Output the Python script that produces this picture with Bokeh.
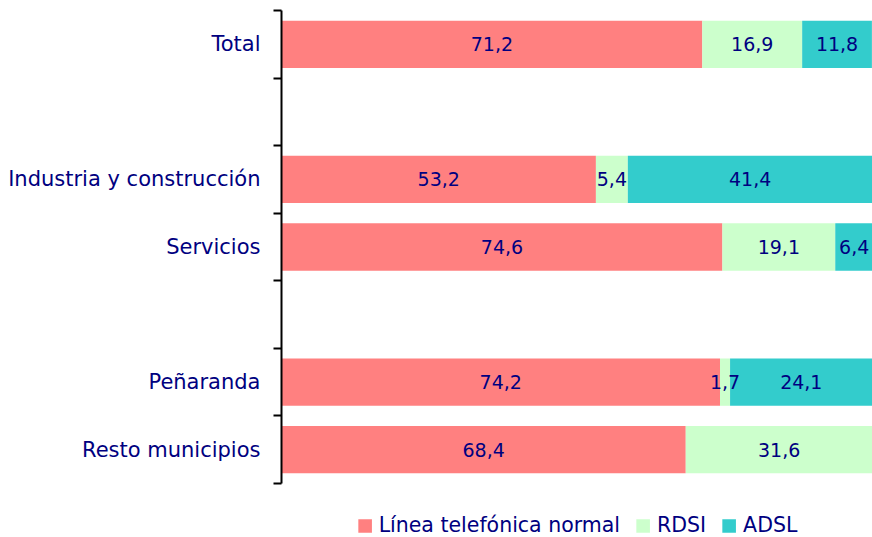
from bokeh.plotting import figure
from bokeh.models import ColumnDataSource, FixedTicker, Legend, LegendItem, Range1d
from bokeh.core.properties import value
from bokeh.embed import file_html
from bokeh.resources import INLINE

categories = ["Total", "", "Industria y construcción", "Servicios", "", "Peñaranda", "Resto municipios"]
linea = [71.2, None, 53.2, 74.6, None, 74.2, 68.4]
rdsi = [16.9, None, 5.4, 19.1, None, 1.7, 31.6]
adsl = [11.8, None, 41.4, 6.4, None, 24.1, 0.0]
series_names = ["Línea telefónica normal", "RDSI", "ADSL"]
colors = ["#FF8080", "#CCFFCC", "#33CCCC"]

FONT = "DejaVu Sans"
NAVY = "#000080"

n = len(categories)
idx = [i for i, c in enumerate(categories) if c]
ypos = [n - i - 0.5 for i in idx]

src = ColumnDataSource(dict(
    y=ypos,
    linea=[linea[i] for i in idx],
    rdsi=[rdsi[i] for i in idx],
    adsl=[adsl[i] for i in idx],
))

# frame spans from top (10px) to page bottom; the plot area (0..n) ends 54px above
slot_px = 473 / n
below = 54 / slot_px

p = figure(width=872, height=537, output_backend="svg", toolbar_location=None,
           x_range=Range1d(0, 100), y_range=Range1d(-below, n))
p.min_border_left = 281
p.min_border_right = 0
p.min_border_top = 10
p.min_border_bottom = 0
p.outline_line_color = None
p.xgrid.visible = False
p.ygrid.visible = False
p.xaxis.visible = False
p.background_fill_color = "white"

renderers = p.hbar_stack(["linea", "rdsi", "adsl"], y="y", height=0.70, source=src,
                         color=colors, line_color=None)

# value labels
tx, ty, tt = [], [], []
for k, i in enumerate(idx):
    left = 0.0
    for vals in (linea, rdsi, adsl):
        v = vals[i]
        if v and v > 0:
            tx.append(left + v / 2)
            ty.append(ypos[k])
            tt.append(f"{v:.1f}".replace(".", ","))
        left += v or 0
p.text(x=tx, y=ty, text=tt, text_align="center", text_baseline="middle",
       text_color=NAVY, text_font=value(FONT), text_font_size="19px")

yaxis = p.yaxis[0]
yaxis.bounds = (0, n)
yaxis.ticker = FixedTicker(ticks=ypos, minor_ticks=list(range(n + 1)))
yaxis.major_label_overrides = {float(y): categories[i] for y, i in zip(ypos, idx)}
yaxis.major_tick_out = 0
yaxis.major_tick_in = 0
yaxis.minor_tick_out = 8
yaxis.minor_tick_in = 0
yaxis.minor_tick_line_width = 2
yaxis.minor_tick_line_color = "black"
yaxis.axis_line_width = 2
yaxis.axis_line_color = "black"
yaxis.major_label_standoff = 13
yaxis.major_label_text_font = FONT
yaxis.major_label_text_font_size = "21px"
yaxis.major_label_text_color = NAVY

legend = Legend(items=[LegendItem(label=nm, renderers=[r]) for nm, r in zip(series_names, renderers)],
                orientation="horizontal", location="bottom_center",
                glyph_width=17, glyph_height=17, label_height=20,
                label_standoff=6, spacing=14, padding=0, margin=0,
                border_line_color=None, background_fill_alpha=0,
                label_text_font=FONT, label_text_font_size="20.5px",
                label_text_color=NAVY)
p.add_layout(legend, "center")

open("out.html", "w").write(file_html(p, INLINE))
